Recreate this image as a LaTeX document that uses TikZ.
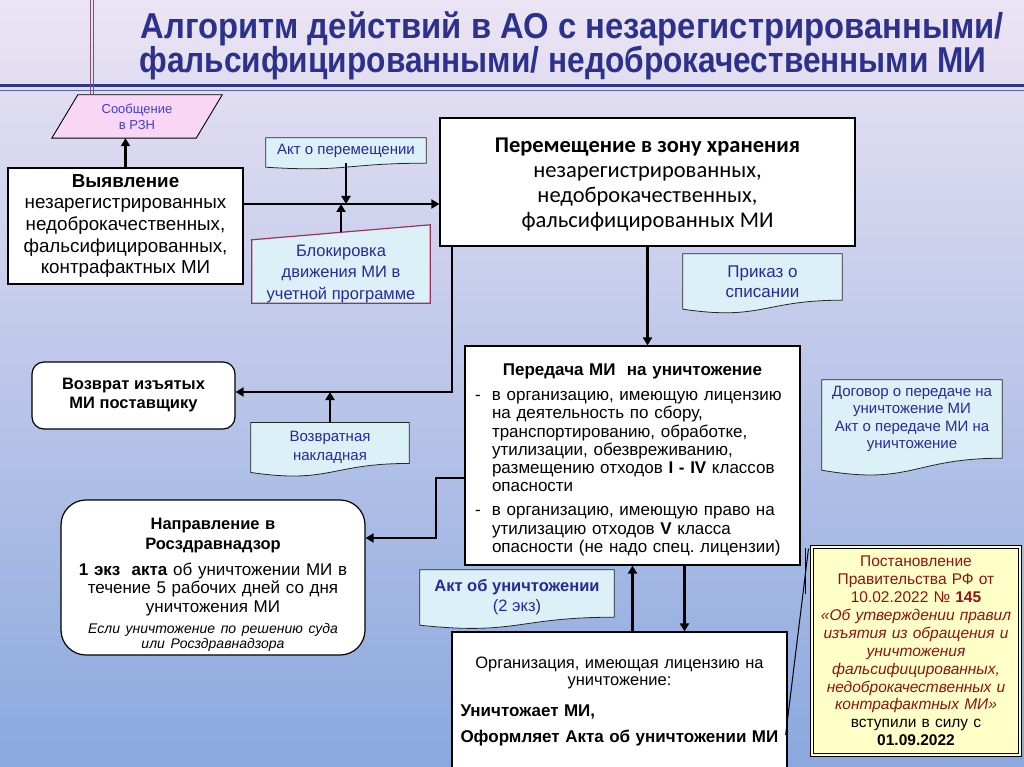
\documentclass[tikz,border=0pt]{standalone}
\usepackage{fontspec}
\setmainfont{Liberation Sans}
\newfontfamily\calib{Carlito}
\usetikzlibrary{calc,arrows.meta}
\frenchspacing
\pgfdeclarelayer{bg}
\pgfdeclarelayer{mid}
\pgfsetlayers{bg,mid,main}
\definecolor{bgtop}{RGB}{236,228,244}
\definecolor{bgmid}{RGB}{204,202,236}
\definecolor{bgbot}{RGB}{138,168,222}
\definecolor{titleblue}{RGB}{44,50,140}
\definecolor{docfill}{RGB}{220,240,248}
\definecolor{docblue}{RGB}{40,42,150}
\definecolor{pinkfill}{RGB}{250,214,246}
\definecolor{soobblue}{RGB}{64,64,200}
\definecolor{maroonb}{RGB}{160,50,90}
\definecolor{postfill}{RGB}{255,255,200}
\definecolor{postred}{RGB}{140,20,20}
\definecolor{linemauve}{RGB}{140,80,110}
\definecolor{sepblue}{RGB}{45,55,140}
\definecolor{septhin}{RGB}{90,100,180}
\newcommand{\fsz}[2]{\fontsize{#1pt}{#2pt}\selectfont}
\newcommand{\up}[1]{\rule{0pt}{#1pt}}
\newcommand{\docwave}[2]{%
  \begin{pgfonlayer}{mid}
  \path[docpath] (#1.north west) -- (#1.north east) -- (#1.south east)
    .. controls (#1.south) and ($(#1.south)+(0,2.3*#2)$) .. ($(#1.south west)+(0,#2)$) -- cycle;
  \end{pgfonlayer}}
\tikzset{
  box/.style={draw=black, line width=1.2pt, fill=white, inner sep=0pt, align=center},
  docnode/.style={inner sep=0pt, align=center, text=docblue},
  docpath/.style={draw=black!85, line width=0.8pt, fill=docfill},
  arr/.style={line width=2.6pt, -{Triangle[width=9pt,length=8pt]}},
  thinconn/.style={line width=1pt, black},
  titletext/.style={font=\bfseries\fsz{36}{40}, text=titleblue, inner sep=0pt},
}
\begin{document}
\frenchspacing
\begin{tikzpicture}[x=1pt,y=-1pt]
\useasboundingbox (0,0) rectangle (1024,767);
\begin{pgfonlayer}{bg}
  \shade[top color=bgtop, middle color=bgmid, bottom color=bgbot] (0,0) rectangle (1024,767);
  \draw[sepblue, line width=3pt] (0,86) -- (1024,86);
  \draw[septhin, line width=1.4pt] (0,90.5) -- (1024,90.5);
  \draw[linemauve, line width=0.9pt] (90,0) -- (90,94);
  \draw[linemauve, line width=0.9pt] (93.5,0) -- (93.5,94);
\end{pgfonlayer}

% title
\node[titletext] (t1) at (572,29) {\scalebox{0.911}[1]{Алгоритм действий в АО с незарегистрированными/}};
\node[titletext] (t2) at (563,63) {\scalebox{0.879}[1]{фальсифицированными/ недоброкачественными МИ}};

% Сообщение в РЗН
\node[docnode, text=soobblue, minimum width=170pt, minimum height=43pt, font=\fsz{13}{16}] (soob) at (137,116.5) {Сообщение\\в РЗН};
\begin{pgfonlayer}{mid}
  \path[draw=black, line width=0.9pt, fill=pinkfill] ($(soob.north west)+(26,0)$) -- (soob.north east) -- ($(soob.south east)+(-26,0)$) -- (soob.south west) -- cycle;
\end{pgfonlayer}

% Выявление
\node[box, minimum width=235pt, minimum height=116pt, font=\fsz{18.8}{21.7}] (vyav) at (125.5,226)
  {\textbf{Выявление}\\незарегистрированных\\недоброкачественных,\\фальсифицированных,\\контрафактных МИ};

% Перемещение
\node[box, minimum width=415pt, minimum height=128pt, font=\calib\fsz{22.5}{25}] (perem) at (647.5,182)
  {\up{19}\textbf{Перемещение в зону хранения}\\незарегистрированных,\\недоброкачественных,\\фальсифицированных МИ};

% Акт о перемещении
\node[docnode, minimum width=160pt, minimum height=25pt, font=\fsz{15}{16}] (aktp) at (346,150.5) {Акт о перемещении};
\docwave{aktp}{4}

% Блокировка
\node[docnode, minimum width=178pt, minimum height=70.5pt, font=\fsz{16.5}{21.5}] (blok) at (341,267.75)
  {\up{23}Блокировка\\движения МИ в\\учетной программе};
\begin{pgfonlayer}{mid}
  \path[draw=maroonb, line width=1.2pt, fill=docfill] ($(blok.north west)+(0,7.5)$) -- ($(blok.north east)+(0,-7.5)$) -- (blok.south east) -- (blok.south west) -- cycle;
\end{pgfonlayer}

% Приказ о списании
\node[docnode, minimum width=159pt, minimum height=46pt, font=\fsz{17}{20}] (prikaz) at (762.5,277) {\up{21}Приказ о\\списании};
\docwave{prikaz}{9}

% Возврат
\node[box, rounded corners=12pt, minimum width=203pt, minimum height=67pt, font=\bfseries\fsz{16.5}{19}] (vozv) at (133.5,395.5)
  {Возврат изъятых\\МИ поставщику};

% Возвратная накладная
\node[docnode, minimum width=158pt, minimum height=40pt, font=\fsz{15}{18.5}] (vnakl) at (330,443) {\up{19}Возвратная\\накладная};
\docwave{vnakl}{9}

% Передача
\node[box, minimum width=335pt, minimum height=219pt, text width=315pt, align=left, font=\fsz{17}{18.3}] (pered) at (632.5,455.5) {%
  {\centering\up{20}\textbf{Передача МИ\ \ на уничтожение}\par}\vspace{7pt}
  \raggedright
  \makebox[17pt][l]{-}\parbox[t]{298pt}{\raggedright в организацию, имеющую лицензию\\на деятельность по сбору,\\транспортированию, обработке,\\утилизации, обезвреживанию,\\размещению отходов \textbf{I - IV} классов\\опасности}\par\vspace{13.5pt}
  \makebox[17pt][l]{-}\parbox[t]{298pt}{\raggedright в организацию, имеющую право на\\утилизацию отходов \textbf{V} класса\\опасности (не надо спец. лицензии)}\par};

% Договор
\node[docnode, minimum width=180pt, minimum height=78pt, font=\fsz{15}{17.5}] (dogov) at (912,419)
  {Договор о передаче на\\уничтожение МИ\\Акт о передаче МИ на\\уничтожение};
\docwave{dogov}{12}

% Направление
\node[box, rounded corners=25pt, minimum width=304pt, minimum height=155pt, text width=290pt, font=\fsz{17}{18.5}] (naprav) at (213,577.5) {%
  {\bfseries\fsz{16.5}{20}\up{26}Направление в\\Росздравнадзор\par}\vspace{7.5pt}
  \textbf{1 экз\ \ акта} об уничтожении МИ в\\течение 5 рабочих дней со дня\\уничтожения МИ\par\vspace{5.5pt}
  {\itshape\fsz{14}{15.5}Если уничтожение по решению суда\\или Росздравнадзора\par}};

% Акт об уничтожении
\node[docnode, minimum width=194pt, minimum height=47pt, font=\fsz{16.5}{20}] (aktu) at (517,593.5)
  {\up{19}\textbf{Акт об уничтожении}\\(2 экз)};
\docwave{aktu}{8}

% Организация
\node[box, minimum width=335pt, minimum height=138pt, text width=318pt, font=\fsz{16.5}{17}] (org) at (619.5,701) {%
  Организация, имеющая лицензию на\\уничтожение:\par\vspace{5pt}
  \raggedright{\bfseries\fsz{17}{26}Уничтожает МИ,\\Оформляет Акта об уничтожении МИ\par}};

% Постановление
\node[draw=black, line width=1pt, double=postfill, double distance=2pt, fill=postfill, inner sep=0pt,
      minimum width=208pt, minimum height=208pt, text width=200pt, align=center, font=\fsz{15.5}{17.9}] (post) at (916,651) {%
  \color{postred}Постановление\\Правительства РФ от\\10.02.2022 № \textbf{145}\\
  {\itshape «Об утверждении правил\\изъятия из обращения и\\уничтожения\\фальсифицированных,\\недоброкачественных и\\контрафактных МИ»}\\
  \color{black}вступили в силу с\\\textbf{01.09.2022}};

% connectors
\coordinate (j1) at (0,204);
\coordinate (j2) at (452,392);
\coordinate (j3) at (436,478);
\coordinate (j4) at (436,538);
\draw[arr] (vyav.north) -- (vyav.north |- soob.south);
\draw[arr] (vyav.east |- j1) -- (perem.west |- j1);
\draw[arr] (aktp.south) -- (aktp.south |- j1);
\draw[arr] (blok.north) -- (blok.north |- j1);
\draw[arr] (perem.south) -- (perem.south |- pered.north);
\draw[arr] (perem.south -| j2) -- (j2) -- (vozv.east |- j2);
\draw[arr] (vnakl.north) -- (vnakl.north |- j2);
\draw[arr] (pered.west |- j3) -- (j3) -- (j4) -- (naprav.east |- j4);
\draw[arr] (pered.south |- org.north) -- (pered.south);
\draw[arr] ($(pered.south)+(52,0)$) -- ($(pered.south |- org.north)+(52,0)$);
\draw[thinconn] ($(post.north west)+(-6,1)$) -- ++(0,46);
\draw[thinconn] ($(post.north west)+(-3,2)$) -- ($(org.east)+(-2,34)$);
\end{tikzpicture}
\end{document}
